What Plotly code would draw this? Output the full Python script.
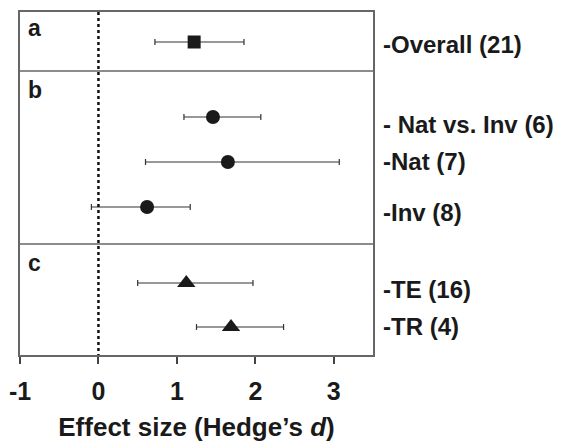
import plotly.graph_objects as go

# Data
labels = ["-Overall (21)", "- Nat vs. Inv (6)", "-Nat (7)", "-Inv (8)", "-TE (16)", "-TR (4)"]
effect = [1.22, 1.46, 1.65, 0.62, 1.12, 1.69]
ci_low = [0.72, 1.09, 0.60, -0.09, 0.50, 1.25]
ci_high = [1.855, 2.07, 3.07, 1.17, 1.97, 2.36]
groups = ["a", "b", "b", "b", "c", "c"]
symbols_by_group = {"a": "square", "b": "circle", "c": "triangle-up"}
sizes_by_group = {"a": 13, "b": 14, "c": 16}
x_ticks = [-1, 0, 1, 2, 3]

# Layout helpers (vertical row placement in plot units, top = 0)
row_y = [30, 105, 150, 195, 271, 315]
label_y = [32, 112, 149, 200, 277, 314]
sep_y = [59, 232]
letter_y = {"a": 1, "b": 63, "c": 236}
Y_MAX = 343

FONT = "Liberation Sans, Arial, sans-serif"

fig = go.Figure()

for g in ["a", "b", "c"]:
    idx = [i for i, gg in enumerate(groups) if gg == g]
    fig.add_trace(go.Scatter(
        x=[effect[i] for i in idx],
        y=[row_y[i] for i in idx],
        mode="markers",
        marker=dict(symbol=symbols_by_group[g], size=sizes_by_group[g],
                    color="#1a1a1a", line=dict(width=0)),
        error_x=dict(type="data", symmetric=False,
                     array=[ci_high[i] - effect[i] for i in idx],
                     arrayminus=[effect[i] - ci_low[i] for i in idx],
                     color="#333333", thickness=1.2, width=3),
        showlegend=False,
        hoverinfo="skip",
    ))

# dotted zero line
fig.add_shape(type="line", x0=0, x1=0, y0=0, y1=Y_MAX, xref="x", yref="y",
              line=dict(color="#111111", width=2.5, dash="dot"))

# separators
for s in sep_y:
    fig.add_shape(type="line", x0=0, x1=1, xref="paper", y0=s, y1=s, yref="y",
                  line=dict(color="#666666", width=1.5))

# panel letters
for g, yy in letter_y.items():
    fig.add_annotation(x=0.016, xref="paper", y=yy, yref="y", text="<b>%s</b>" % g,
                       showarrow=False, xanchor="left", yanchor="top",
                       font=dict(family=FONT, size=23, color="#1a1a1a"))

# right-side labels
for lab, yy in zip(labels, label_y):
    fig.add_annotation(x=1.022, xref="paper", y=yy, yref="y", text="<b>%s</b>" % lab,
                       showarrow=False, xanchor="left", yanchor="middle",
                       font=dict(family=FONT, size=24, color="#1a1a1a"))

fig.update_layout(
    width=553, height=434,
    margin=dict(l=12, r=188, t=4, b=87),
    plot_bgcolor="white", paper_bgcolor="white",
    font=dict(family=FONT, color="#1a1a1a"),
    xaxis=dict(range=[-1, 3.5], tickvals=x_ticks, ticktext=["<b>%d</b>" % t for t in x_ticks],
               showgrid=False, zeroline=False, showline=True, mirror=True,
               linecolor="#666666", linewidth=1.5, automargin=False,
               ticks="outside", ticklen=7, tickcolor="#444444", tickwidth=1.5,
               ticklabelstandoff=6,
               tickfont=dict(family=FONT, size=25, color="#1a1a1a"),
               title=dict(text="<b>Effect size (Hedge’s <i>d</i>)</b>", standoff=14,
                          font=dict(family=FONT, size=26, color="#1a1a1a"))),
    yaxis=dict(range=[Y_MAX, 0], showgrid=False, zeroline=False, showticklabels=False,
               showline=True, mirror=True, linecolor="#666666", linewidth=1.5, ticks=""),
)

fig.write_html("out.html")
